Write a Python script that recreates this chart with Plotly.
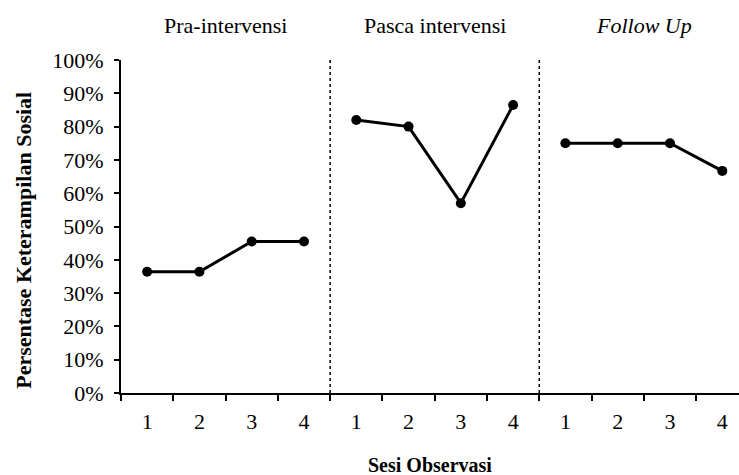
import plotly.graph_objects as go

phases = ["Pra-intervensi", "Pasca intervensi", "<i>Follow Up</i>"]
sessions = ["1", "2", "3", "4"]
pra_values = [0.364, 0.364, 0.455, 0.455]
pasca_values = [0.82, 0.80, 0.57, 0.865]
follow_values = [0.75, 0.75, 0.75, 0.667]
y_ticks = [0, 0.1, 0.2, 0.3, 0.4, 0.5, 0.6, 0.7, 0.8, 0.9, 1.0]

series = [pra_values, pasca_values, follow_values]
FONT = "Liberation Serif"
n = len(sessions)

fig = go.Figure()
tickvals, ticktext = [], []
for p, vals in enumerate(series):
    xs = [p * n + i + 1 for i in range(n)]
    tickvals += xs
    ticktext += sessions
    fig.add_trace(go.Scatter(
        x=xs, y=vals, mode="lines+markers",
        line=dict(color="black", width=3),
        marker=dict(color="black", size=10),
        showlegend=False, hoverinfo="skip"))
    fig.add_annotation(x=p * n + (n + 1) / 2, y=1.105, xref="x", yref="paper",
                       yanchor="middle", xanchor="center",
                       text=phases[p], showarrow=False,
                       font=dict(family=FONT, size=22, color="black"))
    if p > 0:
        fig.add_shape(type="line", x0=p * n + 0.5, x1=p * n + 0.5, y0=0, y1=1.03,
                      xref="x", yref="y",
                      line=dict(color="black", width=1.5, dash="dot"))

boundaries = [i + 0.5 for i in range(len(tickvals) + 1)]

fig.update_layout(
    width=739, height=475,
    margin=dict(l=121, r=0, t=60, b=82),
    paper_bgcolor="white", plot_bgcolor="white",
    font=dict(family=FONT, size=22, color="black"),
    xaxis=dict(
        range=[0.5, 12.32], tickvals=tickvals, ticktext=ticktext,
        ticks="", showgrid=False, zeroline=False, automargin=False,
        showline=True, linecolor="black", linewidth=2,
        ticklabelstandoff=8,
        minor=dict(tickvals=boundaries, ticks="outside", ticklen=6,
                   tickwidth=2, tickcolor="black", showgrid=False),
    ),
    yaxis=dict(
        range=[0, 1.0], tickvals=y_ticks, tickformat=".0%",
        ticks="outside", ticklen=5, tickwidth=2, tickcolor="black",
        showgrid=False, zeroline=False, automargin=False,
        showline=True, linecolor="black", linewidth=2,
        ticklabelstandoff=6,
    ),
)

fig.add_annotation(x=-0.157, y=0.46, xref="paper", yref="paper",
                   xanchor="center", yanchor="middle",
                   text="<b>Persentase Keterampilan Sosial</b>", textangle=-90,
                   showarrow=False, font=dict(family=FONT, size=22, color="black"))
fig.add_annotation(x=0.5, y=-0.216, xref="paper", yref="paper",
                   xanchor="center", yanchor="middle",
                   text="<b>Sesi Observasi</b>",
                   showarrow=False, font=dict(family=FONT, size=20, color="black"))

fig.write_html("out.html", config={"displayModeBar": False},
               post_script="document.body.style.margin='0';")
